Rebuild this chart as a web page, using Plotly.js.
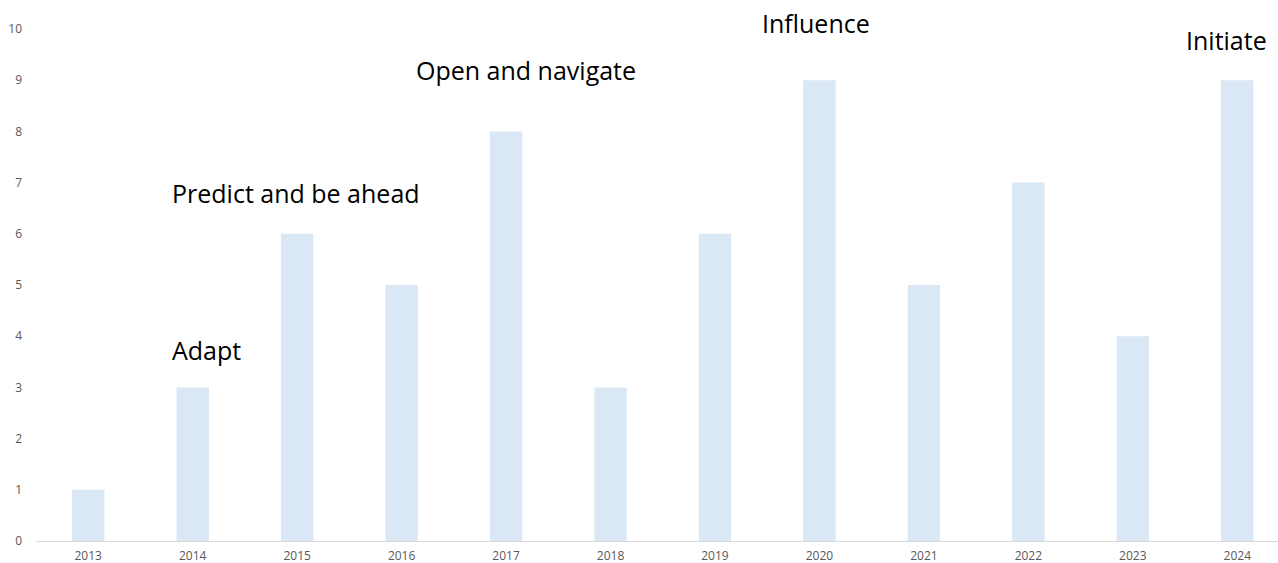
<!DOCTYPE html>
<html><head><meta charset="utf-8">
<script src="https://cdn.plot.ly/plotly-3.0.1.min.js"></script>
<style>html,body{margin:0;padding:0;background:#fff}#chart{width:1278px;height:563px}</style>
</head><body><div id="chart"></div>
<script>
const years = ["2013","2014","2015","2016","2017","2018","2019","2020","2021","2022","2023","2024"];
const values = [1,3,6,5,8,3,6,9,5,7,4,9];
const labels = ["Adapt","Predict and be ahead","Open and navigate","Influence","Initiate"];
const labelX = [0.78, 0.78, 3.12, 6.43, 10.49];
const labelY = [3.73, 6.80, 9.20, 10.12, 9.79];

const trace = {type:'bar', x: years, y: values, width: 0.31,
  marker:{color:'#dae7f5'}, hoverinfo:'x+y'};

const annotations = labels.map((t,i)=>({
  text:t, x:labelX[i], y:labelY[i]/10, xref:'x', yref:'paper',
  xanchor:'left', yanchor:'middle', showarrow:false,
  font:{family:'Open Sans, sans-serif', size:25, color:'#000'}
}));

const layout = {
  width:1278, height:563,
  margin:{l:36, r:0, t:29, b:22},
  paper_bgcolor:'#fff', plot_bgcolor:'#fff',
  showlegend:false,
  xaxis:{type:'category', range:[-0.5, 11.39], showgrid:false, zeroline:false,
    showline:true, linecolor:'#d9d9d9', linewidth:1, ticks:'', ticklabelstandoff:4,
    tickfont:{family:'Open Sans, sans-serif', size:12, color:'#595959'}},
  yaxis:{range:[0,10], dtick:1, showgrid:false, zeroline:false, showline:false,
    ticks:'', ticklabelstandoff:13,
    tickfont:{family:'Open Sans, sans-serif', size:12, color:'#595959'}},
  annotations: annotations
};
Plotly.newPlot('chart',[trace],layout,{displayModeBar:false, staticPlot:true});
</script></body></html>
